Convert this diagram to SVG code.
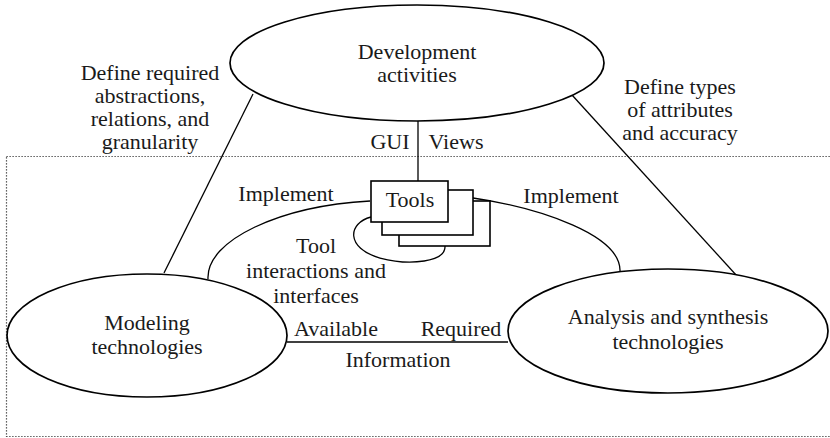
<svg xmlns="http://www.w3.org/2000/svg" width="830" height="438" viewBox="0 0 830 438">
<style>
text{font-family:"Liberation Serif","Times New Roman",serif;font-size:22px;fill:#1a1a1a;text-anchor:middle}
.node{fill:#fff;stroke:#000;stroke-width:1.7}
.box{fill:#fff;stroke:#000;stroke-width:1.6}
.line{fill:none;stroke:#000;stroke-width:1.3}
.dot{fill:none;stroke:#333;stroke-width:1.2;stroke-dasharray:1.2 1.8}
</style>
<rect id="boundary" class="dot" x="6.5" y="156.5" width="840" height="280"/>
<g id="connectors">
<line class="line" x1="253" y1="94" x2="164" y2="273"/>
<line class="line" x1="572" y1="95" x2="737" y2="276"/>
<line class="line" x1="418" y1="120" x2="418" y2="181"/>
<line class="line" x1="287" y1="342" x2="508" y2="342"/>
<path class="line" d="M208,279 C206,240 280,206 370,201"/>
<path class="line" d="M473,198 C540,208 622,235 620,272"/>
<path class="line" d="M371,217 C348,223 345,248 380,258 C410,266 446,262 445,246"/>
</g>
<g id="development">
<ellipse class="node" cx="417" cy="63" rx="187" ry="58"/>
<text x="417" y="59">Development</text>
<text x="417" y="82">activities</text>
</g>
<g id="modeling">
<ellipse class="node" cx="147" cy="335.5" rx="140" ry="61.5"/>
<text x="147" y="330">Modeling</text>
<text x="147" y="354">technologies</text>
</g>
<g id="analysis">
<ellipse class="node" cx="668" cy="331" rx="160" ry="62"/>
<text x="668" y="324">Analysis and synthesis</text>
<text x="668" y="349">technologies</text>
</g>
<g id="tools">
<rect class="box" x="399" y="201" width="91" height="45"/>
<rect class="box" x="382" y="190" width="91" height="45"/>
<rect class="box" x="371" y="181" width="77" height="41"/>
<text x="410" y="207">Tools</text>
</g>
<g id="labels">
<text x="150" y="80">Define required</text>
<text x="150" y="103">abstractions,</text>
<text x="150" y="126">relations, and</text>
<text x="150" y="149">granularity</text>
<text x="680" y="94">Define types</text>
<text x="680" y="117">of attributes</text>
<text x="680" y="140">and accuracy</text>
<text x="390" y="149">GUI</text>
<text x="456" y="149">Views</text>
<text x="286" y="201">Implement</text>
<text x="571" y="203">Implement</text>
<text x="316" y="253">Tool</text>
<text x="316" y="278">interactions and</text>
<text x="316" y="303">interfaces</text>
<text x="336" y="336">Available</text>
<text x="461" y="336">Required</text>
<text x="398" y="367">Information</text>
</g>
</svg>
